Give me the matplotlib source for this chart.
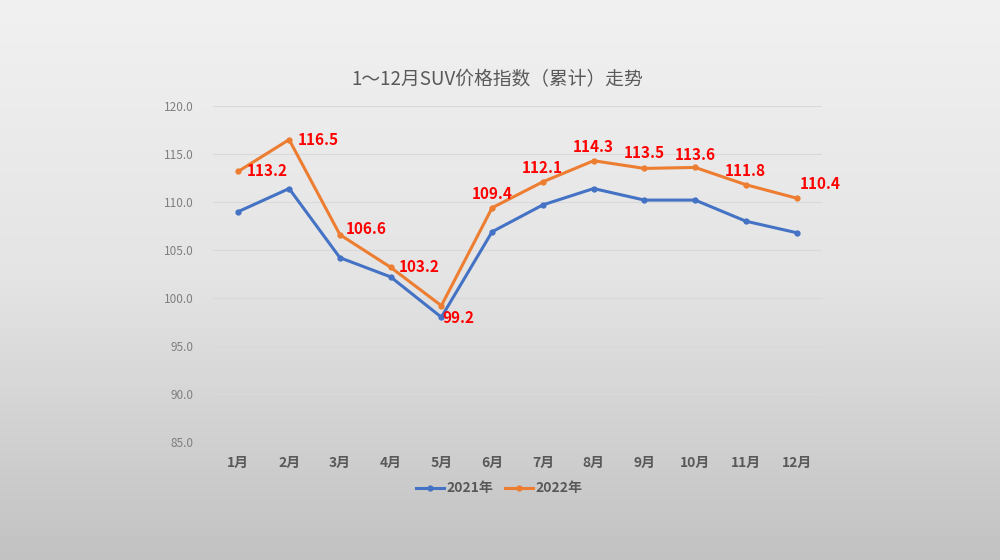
import matplotlib
matplotlib.use("Agg")
import matplotlib.pyplot as plt
import numpy as np

plt.rcParams['font.family'] = ['Noto Sans CJK SC', 'DejaVu Sans']

# data
months = ["1月", "2月", "3月", "4月", "5月", "6月", "7月", "8月", "9月", "10月", "11月", "12月"]
idx2021 = [109.0, 111.4, 104.2, 102.2, 98.0, 106.9, 109.7, 111.4, 110.2, 110.2, 108.0, 106.8]
idx2022 = [113.2, 116.5, 106.6, 103.2, 99.2, 109.4, 112.1, 114.3, 113.5, 113.6, 111.8, 110.4]
yticks = [85.0, 90.0, 95.0, 100.0, 105.0, 110.0, 115.0, 120.0]

# label offsets (points) for 2022 data labels
label_off = [(6, 0), (6, 0), (4, 4), (6, 0), (1, -9), (-15, 10), (-15, 10),
             (-15, 10), (-15, 11), (-15, 9), (-15, 10), (2, 10)]

fig = plt.figure(figsize=(10, 5.6), dpi=100)

# gradient background
bg = fig.add_axes([0, 0, 1, 1], zorder=-10)
grad = np.linspace(0, 1, 256).reshape(-1, 1)
bg.imshow(grad, aspect="auto", cmap=matplotlib.colors.LinearSegmentedColormap.from_list(
    "g", ["#f1f1f1", "#e4e4e4", "#c2c2c2"]), extent=[0, 1, 0, 1])
bg.axis("off")

ax = fig.add_axes([0.213, 0.2107, 0.609, 0.6])
ax.patch.set_alpha(0)
x = np.arange(len(months))

ax.plot(x, idx2021, color="#4472C4", linewidth=2.2, marker="o", markersize=3.5, label="2021年", zorder=3)
ax.plot(x, idx2022, color="#ED7D31", linewidth=2.2, marker="o", markersize=3.5, label="2022年", zorder=3)

for i, v in enumerate(idx2022):
    ax.annotate("%.1f" % v, (x[i], v), xytext=label_off[i], textcoords="offset points",
                ha="left", va="center", color="#FF0000", fontsize=11, fontweight="bold")

ax.set_xlim(-0.5, 11.5)
ax.set_ylim(85, 120)
ax.set_yticks(yticks)
ax.set_yticklabels(["%.1f" % t for t in yticks], color="#7f7f7f", fontsize=8.5)
ax.set_xticks(x)
ax.set_xticklabels(months, color="#595959", fontsize=10, fontweight="bold")
ax.tick_params(axis="both", length=0)
ax.tick_params(axis="y", pad=14)
ax.tick_params(axis="x", pad=10)
ax.grid(axis="y", color="#d9d9d9", linewidth=0.8)
for s in ax.spines.values():
    s.set_visible(False)

fig.text(0.497, 0.857, "1～12月SUV价格指数（累计）走势", ha="center", va="center",
         fontsize=13.5, color="#595959")

ax.legend(loc="upper center", bbox_to_anchor=(0.47, -0.08), ncol=2, frameon=False,
          fontsize=10, handlelength=2, handletextpad=0.2, columnspacing=0.8,
          prop={"weight": "bold", "size": 10})
leg = ax.get_legend()
for t in leg.get_texts():
    t.set_color("#595959")

fig.savefig("out.png", dpi=100)
